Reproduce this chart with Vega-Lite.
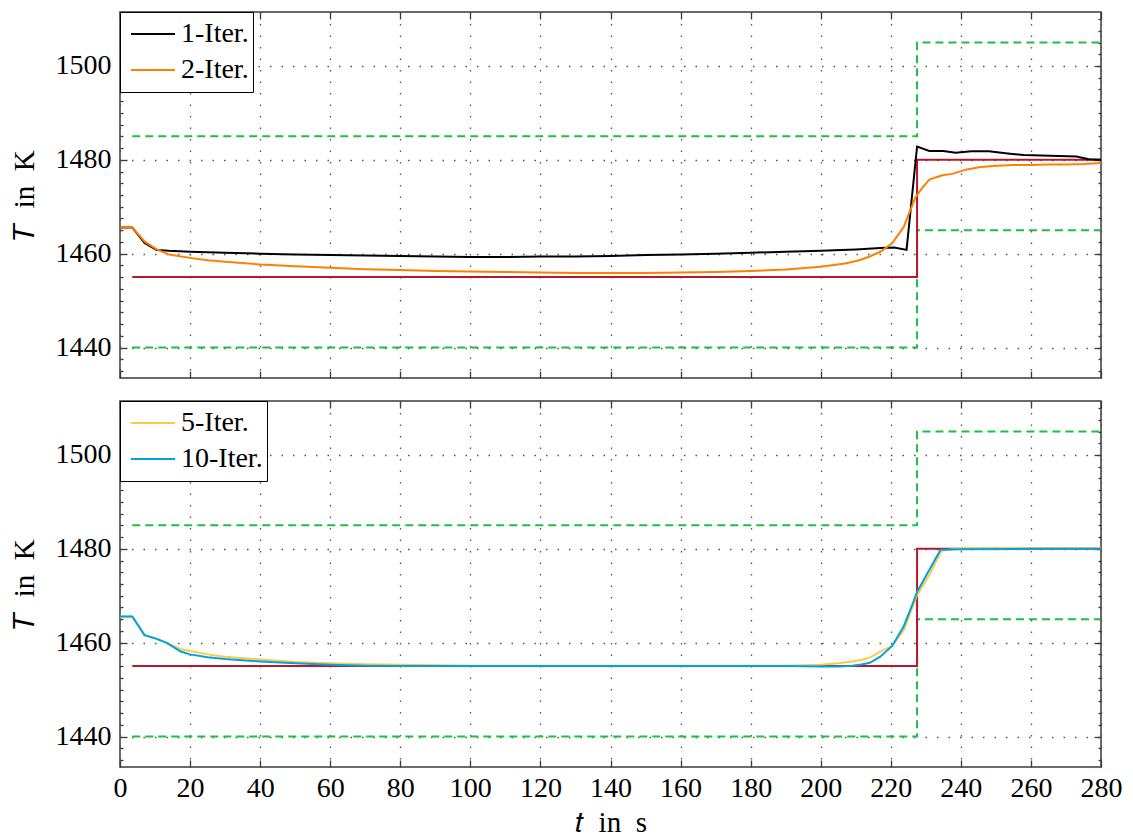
{
  "$schema": "https://vega.github.io/schema/vega-lite/v6.json",
  "padding": {"left": 9, "top": 10, "right": 5, "bottom": 5},
  "background": "white",
  "config": {
    "font": "Liberation Serif",
    "view": {"stroke": "#3a3a3a", "strokeWidth": 1.5},
    "axis": {
      "labelFont": "Liberation Serif", "labelFontSize": 28, "labelColor": "#000",
      "titleFont": "Liberation Serif", "titleFontSize": 29, "titleColor": "#000", "titleFontWeight": "normal",
      "domain": false, "tickColor": "#3a3a3a", "tickSize": -7, "tickWidth": 1.3,
      "gridColor": "#555", "gridDash": [1.5, 10], "gridWidth": 1.3,
      "labelFlush": false, "labelOverlap": false, "format": "d"
    },
    "legend": {
      "orient": "top-left", "offset": 0, "padding": 4, "strokeColor": "#000", "fillColor": "white",
      "labelFont": "Liberation Serif", "labelFontSize": 28, "labelColor": "#000",
      "symbolType": "stroke", "symbolSize": 1936, "symbolStrokeWidth": 2, "clipHeight": 36, "rowPadding": 0,
      "symbolOffset": 6, "labelOffset": 5
    }
  },
  "datasets": {
    "bounds": [
      {"t": 3.5, "v": 1485, "b": "upper", "i": 0},
      {"t": 227.5, "v": 1485, "b": "upper", "i": 1},
      {"t": 227.5, "v": 1505, "b": "upper", "i": 2},
      {"t": 280, "v": 1505, "b": "upper", "i": 3},
      {"t": 3.5, "v": 1440, "b": "lower", "i": 0},
      {"t": 227.5, "v": 1440, "b": "lower", "i": 1},
      {"t": 227.5, "v": 1465, "b": "lower", "i": 2},
      {"t": 280, "v": 1465, "b": "lower", "i": 3}
    ],
    "ref": [
      {"t": 3.5, "v": 1455, "i": 0},
      {"t": 227.5, "v": 1455, "i": 1},
      {"t": 227.5, "v": 1480, "i": 2},
      {"t": 280, "v": 1480, "i": 3}
    ],
    "top": [
      {"s": "1-Iter.", "t": 0, "T": 1465.6}, {"s": "1-Iter.", "t": 3.5, "T": 1465.6}, {"s": "1-Iter.", "t": 7, "T": 1462.3},
      {"s": "1-Iter.", "t": 10.5, "T": 1460.8}, {"s": "1-Iter.", "t": 14, "T": 1460.6}, {"s": "1-Iter.", "t": 20, "T": 1460.4},
      {"s": "1-Iter.", "t": 30, "T": 1460.2}, {"s": "1-Iter.", "t": 40, "T": 1460.0}, {"s": "1-Iter.", "t": 50, "T": 1459.8},
      {"s": "1-Iter.", "t": 60, "T": 1459.7}, {"s": "1-Iter.", "t": 70, "T": 1459.6}, {"s": "1-Iter.", "t": 80, "T": 1459.5},
      {"s": "1-Iter.", "t": 90, "T": 1459.4}, {"s": "1-Iter.", "t": 100, "T": 1459.3}, {"s": "1-Iter.", "t": 110, "T": 1459.3},
      {"s": "1-Iter.", "t": 120, "T": 1459.4}, {"s": "1-Iter.", "t": 130, "T": 1459.4}, {"s": "1-Iter.", "t": 140, "T": 1459.5},
      {"s": "1-Iter.", "t": 150, "T": 1459.7}, {"s": "1-Iter.", "t": 160, "T": 1459.8}, {"s": "1-Iter.", "t": 170, "T": 1460.0},
      {"s": "1-Iter.", "t": 180, "T": 1460.2}, {"s": "1-Iter.", "t": 190, "T": 1460.4}, {"s": "1-Iter.", "t": 200, "T": 1460.6},
      {"s": "1-Iter.", "t": 210, "T": 1460.9}, {"s": "1-Iter.", "t": 217, "T": 1461.2}, {"s": "1-Iter.", "t": 221, "T": 1461.3},
      {"s": "1-Iter.", "t": 224.5, "T": 1460.8}, {"s": "1-Iter.", "t": 227.5, "T": 1482.8}, {"s": "1-Iter.", "t": 231, "T": 1481.9},
      {"s": "1-Iter.", "t": 235, "T": 1481.9}, {"s": "1-Iter.", "t": 238.5, "T": 1481.5}, {"s": "1-Iter.", "t": 243, "T": 1481.8},
      {"s": "1-Iter.", "t": 248, "T": 1481.8}, {"s": "1-Iter.", "t": 254, "T": 1481.3}, {"s": "1-Iter.", "t": 258, "T": 1481.0},
      {"s": "1-Iter.", "t": 263, "T": 1480.9}, {"s": "1-Iter.", "t": 268, "T": 1480.8}, {"s": "1-Iter.", "t": 273, "T": 1480.7},
      {"s": "1-Iter.", "t": 276.5, "T": 1480.1}, {"s": "1-Iter.", "t": 280, "T": 1480.0},
      {"s": "2-Iter.", "t": 0, "T": 1465.6}, {"s": "2-Iter.", "t": 3.5, "T": 1465.6}, {"s": "2-Iter.", "t": 7, "T": 1462.6},
      {"s": "2-Iter.", "t": 10.5, "T": 1460.9}, {"s": "2-Iter.", "t": 14, "T": 1459.8}, {"s": "2-Iter.", "t": 20, "T": 1459.1},
      {"s": "2-Iter.", "t": 25, "T": 1458.6}, {"s": "2-Iter.", "t": 30, "T": 1458.3}, {"s": "2-Iter.", "t": 40, "T": 1457.7},
      {"s": "2-Iter.", "t": 50, "T": 1457.3}, {"s": "2-Iter.", "t": 60, "T": 1457.0}, {"s": "2-Iter.", "t": 70, "T": 1456.7},
      {"s": "2-Iter.", "t": 80, "T": 1456.5}, {"s": "2-Iter.", "t": 90, "T": 1456.3}, {"s": "2-Iter.", "t": 100, "T": 1456.2},
      {"s": "2-Iter.", "t": 110, "T": 1456.1}, {"s": "2-Iter.", "t": 120, "T": 1456.0}, {"s": "2-Iter.", "t": 130, "T": 1455.9},
      {"s": "2-Iter.", "t": 140, "T": 1455.9}, {"s": "2-Iter.", "t": 150, "T": 1455.9}, {"s": "2-Iter.", "t": 160, "T": 1456.0},
      {"s": "2-Iter.", "t": 170, "T": 1456.1}, {"s": "2-Iter.", "t": 180, "T": 1456.3}, {"s": "2-Iter.", "t": 190, "T": 1456.6},
      {"s": "2-Iter.", "t": 200, "T": 1457.2}, {"s": "2-Iter.", "t": 207, "T": 1457.9}, {"s": "2-Iter.", "t": 211, "T": 1458.6},
      {"s": "2-Iter.", "t": 214, "T": 1459.4}, {"s": "2-Iter.", "t": 217, "T": 1460.4}, {"s": "2-Iter.", "t": 220.4, "T": 1462.2},
      {"s": "2-Iter.", "t": 223.7, "T": 1465.7}, {"s": "2-Iter.", "t": 225.2, "T": 1468.6}, {"s": "2-Iter.", "t": 227.1, "T": 1472.1},
      {"s": "2-Iter.", "t": 229, "T": 1474.0}, {"s": "2-Iter.", "t": 231, "T": 1475.8}, {"s": "2-Iter.", "t": 234.7, "T": 1476.7},
      {"s": "2-Iter.", "t": 237.6, "T": 1477.0}, {"s": "2-Iter.", "t": 241.4, "T": 1477.9}, {"s": "2-Iter.", "t": 245.2, "T": 1478.4},
      {"s": "2-Iter.", "t": 249, "T": 1478.7}, {"s": "2-Iter.", "t": 255, "T": 1478.9}, {"s": "2-Iter.", "t": 260, "T": 1478.9},
      {"s": "2-Iter.", "t": 265, "T": 1479.0}, {"s": "2-Iter.", "t": 270, "T": 1479.0}, {"s": "2-Iter.", "t": 275, "T": 1479.1},
      {"s": "2-Iter.", "t": 280, "T": 1479.3}
    ],
    "bottom": [
      {"s": "5-Iter.", "t": 0, "T": 1465.6}, {"s": "5-Iter.", "t": 3.5, "T": 1465.6}, {"s": "5-Iter.", "t": 7, "T": 1461.6},
      {"s": "5-Iter.", "t": 10.5, "T": 1460.8}, {"s": "5-Iter.", "t": 13.5, "T": 1459.9}, {"s": "5-Iter.", "t": 17.3, "T": 1458.6},
      {"s": "5-Iter.", "t": 20, "T": 1458.2}, {"s": "5-Iter.", "t": 25, "T": 1457.5}, {"s": "5-Iter.", "t": 30, "T": 1457.0},
      {"s": "5-Iter.", "t": 40, "T": 1456.4}, {"s": "5-Iter.", "t": 50, "T": 1455.9}, {"s": "5-Iter.", "t": 60, "T": 1455.6},
      {"s": "5-Iter.", "t": 70, "T": 1455.4}, {"s": "5-Iter.", "t": 80, "T": 1455.3}, {"s": "5-Iter.", "t": 100, "T": 1455.1},
      {"s": "5-Iter.", "t": 150, "T": 1455.1}, {"s": "5-Iter.", "t": 190, "T": 1455.1}, {"s": "5-Iter.", "t": 200, "T": 1455.3},
      {"s": "5-Iter.", "t": 205, "T": 1455.6}, {"s": "5-Iter.", "t": 209, "T": 1456.0}, {"s": "5-Iter.", "t": 212, "T": 1456.4},
      {"s": "5-Iter.", "t": 214, "T": 1456.8}, {"s": "5-Iter.", "t": 217, "T": 1458.1}, {"s": "5-Iter.", "t": 220.4, "T": 1459.3},
      {"s": "5-Iter.", "t": 223.7, "T": 1462.7}, {"s": "5-Iter.", "t": 227.5, "T": 1470.1}, {"s": "5-Iter.", "t": 230.9, "T": 1474.3},
      {"s": "5-Iter.", "t": 234.5, "T": 1479.6}, {"s": "5-Iter.", "t": 240, "T": 1480.1}, {"s": "5-Iter.", "t": 260, "T": 1480.1},
      {"s": "5-Iter.", "t": 280, "T": 1480.1},
      {"s": "10-Iter.", "t": 0, "T": 1465.6}, {"s": "10-Iter.", "t": 3.5, "T": 1465.6}, {"s": "10-Iter.", "t": 7, "T": 1461.6},
      {"s": "10-Iter.", "t": 10.5, "T": 1460.8}, {"s": "10-Iter.", "t": 13.5, "T": 1459.9}, {"s": "10-Iter.", "t": 17.3, "T": 1458.1},
      {"s": "10-Iter.", "t": 20, "T": 1457.5}, {"s": "10-Iter.", "t": 25, "T": 1456.9}, {"s": "10-Iter.", "t": 30, "T": 1456.5},
      {"s": "10-Iter.", "t": 40, "T": 1456.0}, {"s": "10-Iter.", "t": 50, "T": 1455.6}, {"s": "10-Iter.", "t": 60, "T": 1455.3},
      {"s": "10-Iter.", "t": 70, "T": 1455.1}, {"s": "10-Iter.", "t": 80, "T": 1455.0}, {"s": "10-Iter.", "t": 100, "T": 1455.0},
      {"s": "10-Iter.", "t": 150, "T": 1455.0}, {"s": "10-Iter.", "t": 190, "T": 1455.0}, {"s": "10-Iter.", "t": 200, "T": 1454.9},
      {"s": "10-Iter.", "t": 205, "T": 1454.9}, {"s": "10-Iter.", "t": 209, "T": 1455.1}, {"s": "10-Iter.", "t": 212, "T": 1455.4},
      {"s": "10-Iter.", "t": 214, "T": 1455.7}, {"s": "10-Iter.", "t": 217, "T": 1457.0}, {"s": "10-Iter.", "t": 220.4, "T": 1459.3},
      {"s": "10-Iter.", "t": 223.7, "T": 1463.5}, {"s": "10-Iter.", "t": 226.1, "T": 1468.0}, {"s": "10-Iter.", "t": 227.5, "T": 1470.8},
      {"s": "10-Iter.", "t": 230.9, "T": 1475.4}, {"s": "10-Iter.", "t": 234.2, "T": 1479.8}, {"s": "10-Iter.", "t": 240, "T": 1479.9},
      {"s": "10-Iter.", "t": 260, "T": 1480.0}, {"s": "10-Iter.", "t": 280, "T": 1480.0}
    ]
  },
  "spacing": 19,
  "vconcat": [
    {
      "width": 981, "height": 366,
      "layer": [
        {
          "data": {"name": "ref"},
          "mark": {"type": "line", "strokeOpacity": 0},
          "encoding": {
            "x": {"field": "t", "type": "quantitative", "axis": null},
            "y": {"field": "v", "type": "quantitative",
                  "axis": {"orient": "left", "values": [1435,1437.5,1442.5,1445,1447.5,1450,1452.5,1455,1457.5,1462.5,1465,1467.5,1470,1472.5,1475,1477.5,1482.5,1485,1487.5,1490,1492.5,1495,1497.5,1502.5,1505,1507.5,1510], "labels": false, "title": null, "grid": false, "tickSize": -3}}
          }
        },
        {
          "data": {"name": "ref"},
          "mark": {"type": "line", "strokeOpacity": 0},
          "encoding": {
            "x": {"field": "t", "type": "quantitative", "axis": null},
            "y": {"field": "v", "type": "quantitative",
                  "axis": {"orient": "right", "values": [1435,1437.5,1442.5,1445,1447.5,1450,1452.5,1455,1457.5,1462.5,1465,1467.5,1470,1472.5,1475,1477.5,1482.5,1485,1487.5,1490,1492.5,1495,1497.5,1502.5,1505,1507.5,1510], "labels": false, "title": null, "grid": false, "tickSize": -3}}
          }
        },
        {
          "data": {"name": "bounds"},
          "mark": {"type": "line", "color": "#1DBF45", "strokeWidth": 2, "strokeDash": [8, 5]},
          "encoding": {
            "x": {"field": "t", "type": "quantitative", "scale": {"domain": [0, 280], "nice": false},
                  "axis": {"orient": "bottom", "values": [0,20,40,60,80,100,120,140,160,180,200,220,240,260,280], "labels": false, "title": null, "grid": true}},
            "y": {"field": "v", "type": "quantitative", "scale": {"domain": [1433.5, 1511.5], "nice": false, "zero": false},
                  "axis": {"orient": "left", "values": [1440, 1460, 1480, 1500], "title": "𝑇\u00a0 in\u00a0 K", "grid": true, "labelPadding": 16, "titlePadding": 16,
                           "labelFont": "Liberation Serif", "labelFontSize": 28, "titleFont": "Liberation Serif", "titleFontSize": 29}},
            "detail": {"field": "b"},
            "order": {"field": "i", "type": "quantitative"}
          }
        },
        {
          "data": {"name": "ref"},
          "mark": {"type": "line", "color": "#B3192B", "strokeWidth": 2},
          "encoding": {
            "x": {"field": "t", "type": "quantitative",
                  "axis": {"orient": "top", "values": [0,20,40,60,80,100,120,140,160,180,200,220,240,260,280], "labels": false, "title": null, "grid": false}},
            "y": {"field": "v", "type": "quantitative",
                  "axis": {"orient": "right", "values": [1440, 1460, 1480, 1500], "labels": false, "title": null, "grid": false}},
            "order": {"field": "i", "type": "quantitative"}
          }
        },
        {
          "data": {"name": "top"},
          "mark": {"type": "line", "strokeWidth": 2},
          "encoding": {
            "x": {"field": "t", "type": "quantitative", "axis": null},
            "y": {"field": "T", "type": "quantitative", "axis": null},
            "color": {"field": "s", "type": "nominal",
                      "scale": {"domain": ["1-Iter.", "2-Iter."], "range": ["#000000", "#FF8000"]},
                      "legend": {"title": null, "labelExpr": "datum.label + '   '"}}
          }
        }
      ],
      "resolve": {"axis": {"x": "independent", "y": "independent"}}
    },
    {
      "width": 981, "height": 366,
      "layer": [
        {
          "data": {"name": "ref"},
          "mark": {"type": "line", "strokeOpacity": 0},
          "encoding": {
            "x": {"field": "t", "type": "quantitative", "axis": null},
            "y": {"field": "v", "type": "quantitative",
                  "axis": {"orient": "left", "values": [1435,1437.5,1442.5,1445,1447.5,1450,1452.5,1455,1457.5,1462.5,1465,1467.5,1470,1472.5,1475,1477.5,1482.5,1485,1487.5,1490,1492.5,1495,1497.5,1502.5,1505,1507.5,1510], "labels": false, "title": null, "grid": false, "tickSize": -3}}
          }
        },
        {
          "data": {"name": "ref"},
          "mark": {"type": "line", "strokeOpacity": 0},
          "encoding": {
            "x": {"field": "t", "type": "quantitative", "axis": null},
            "y": {"field": "v", "type": "quantitative",
                  "axis": {"orient": "right", "values": [1435,1437.5,1442.5,1445,1447.5,1450,1452.5,1455,1457.5,1462.5,1465,1467.5,1470,1472.5,1475,1477.5,1482.5,1485,1487.5,1490,1492.5,1495,1497.5,1502.5,1505,1507.5,1510], "labels": false, "title": null, "grid": false, "tickSize": -3}}
          }
        },
        {
          "data": {"name": "bounds"},
          "mark": {"type": "line", "color": "#1DBF45", "strokeWidth": 2, "strokeDash": [8, 5]},
          "encoding": {
            "x": {"field": "t", "type": "quantitative", "scale": {"domain": [0, 280], "nice": false},
                  "axis": {"orient": "bottom", "values": [0,20,40,60,80,100,120,140,160,180,200,220,240,260,280], "title": "𝑡\u00a0 in\u00a0 s", "grid": true, "labelPadding": 14, "titlePadding": 6,
                           "labelFont": "Liberation Serif", "labelFontSize": 28, "titleFont": "Liberation Serif", "titleFontSize": 29}},
            "y": {"field": "v", "type": "quantitative", "scale": {"domain": [1433.5, 1511.5], "nice": false, "zero": false},
                  "axis": {"orient": "left", "values": [1440, 1460, 1480, 1500], "title": "𝑇\u00a0 in\u00a0 K", "grid": true, "labelPadding": 16, "titlePadding": 16,
                           "labelFont": "Liberation Serif", "labelFontSize": 28, "titleFont": "Liberation Serif", "titleFontSize": 29}},
            "detail": {"field": "b"},
            "order": {"field": "i", "type": "quantitative"}
          }
        },
        {
          "data": {"name": "ref"},
          "mark": {"type": "line", "color": "#B3192B", "strokeWidth": 2},
          "encoding": {
            "x": {"field": "t", "type": "quantitative",
                  "axis": {"orient": "top", "values": [0,20,40,60,80,100,120,140,160,180,200,220,240,260,280], "labels": false, "title": null, "grid": false}},
            "y": {"field": "v", "type": "quantitative",
                  "axis": {"orient": "right", "values": [1440, 1460, 1480, 1500], "labels": false, "title": null, "grid": false}},
            "order": {"field": "i", "type": "quantitative"}
          }
        },
        {
          "data": {"name": "bottom"},
          "mark": {"type": "line", "strokeWidth": 2},
          "encoding": {
            "x": {"field": "t", "type": "quantitative", "axis": null},
            "y": {"field": "T", "type": "quantitative", "axis": null},
            "color": {"field": "s", "type": "nominal",
                      "scale": {"domain": ["5-Iter.", "10-Iter."], "range": ["#FFC845", "#00A3E0"]},
                      "legend": {"title": null, "labelExpr": "datum.label + '   '"}}
          }
        }
      ],
      "resolve": {"axis": {"x": "independent", "y": "independent"}}
    }
  ],
  "resolve": {"scale": {"color": "independent"}}
}
